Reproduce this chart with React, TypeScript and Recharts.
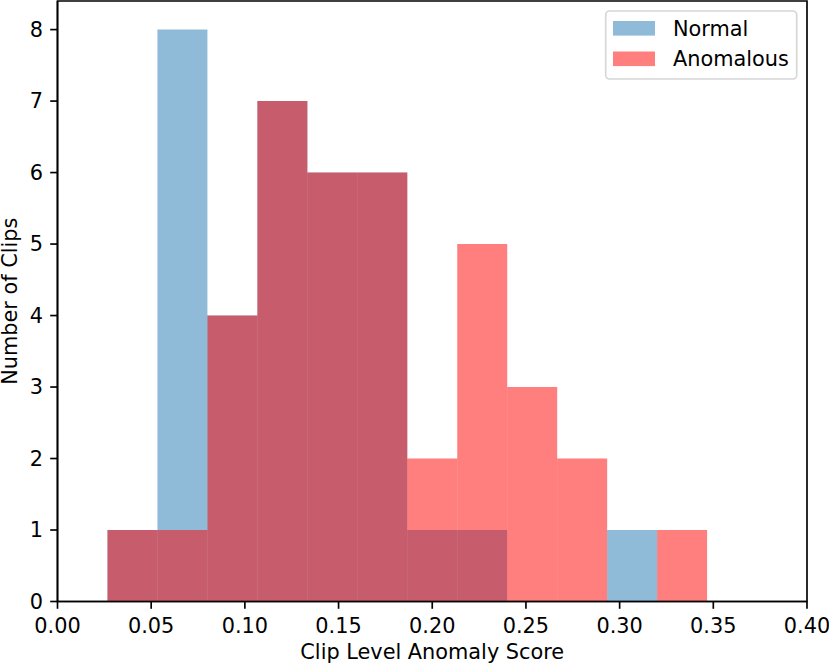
import React from 'react';
import { BarChart, Bar, XAxis, YAxis, Legend, ReferenceArea } from 'recharts';

// histogram bins (left edges), shared by both series
const binStarts = [0, 0.0267, 0.0533, 0.08, 0.1067, 0.1333, 0.16, 0.1867, 0.2133, 0.24, 0.2667, 0.2933, 0.32, 0.3467, 0.3733];
const normalCounts = [0, 1, 8, 4, 7, 6, 6, 1, 1, 0, 0, 1, 0, 0, 0];
const anomalousCounts = [0, 1, 1, 4, 7, 6, 6, 2, 5, 3, 2, 0, 1, 0, 0];

const seriesNames = ['Normal', 'Anomalous'];
const xTicks = [0, 0.05, 0.1, 0.15, 0.2, 0.25, 0.3, 0.35, 0.4];
const yTicks = [0, 1, 2, 3, 4, 5, 6, 7, 8];

const COLORS = {
  normal: '#1f77b4',
  anomalous: '#ff0000',
};

const FONT = 'DejaVu Sans';
const FS = 20.83;
const LW = 1.67;

const data = binStarts.map((start, i) => ({
  bin: `bin-${i}`,
  start,
  normal: normalCounts[i],
  anomalous: anomalousCounts[i],
}));

const YLabel = (props: any) => {
  const vb = props.viewBox || { y: 1, height: 600 };
  const x = 16.5;
  const y = vb.y + vb.height / 2;
  return (
    <text
      x={x}
      y={y}
      transform={`rotate(-90 ${x} ${y})`}
      textAnchor="middle"
      fontFamily={FONT}
      fontSize={FS}
      fill="#000"
    >
      Number of Clips
    </text>
  );
};

const renderLegend = (props: any) => {
  const items = [...(props.payload || [])].sort(
    (a: any, b: any) => seriesNames.indexOf(a.value) - seriesNames.indexOf(b.value)
  );
  return (
    <svg width={196} height={74} style={{ display: 'block' }}>
      <rect x={1.7} y={2} width={191} height={68} rx={4} fill="#fff" fillOpacity={0.8} stroke="#d6d6d6" strokeWidth={LW} />
      {items.map((entry: any, i: number) => (
        <g key={entry.value}>
          <rect x={9} y={12 + i * 30.5} width={42} height={14.6} fill={entry.color} fillOpacity={0.5} />
          <text x={69} y={26.6 + i * 30.5} fontFamily={FONT} fontSize={FS} fill="#000">
            {entry.value}
          </text>
        </g>
      ))}
    </svg>
  );
};

export default function App() {
  return (
    <div style={{ position: 'absolute', left: 0, top: 0, width: 829, height: 665, background: '#fff' }}>
      <BarChart
        width={829}
        height={665}
        data={data}
        margin={{ top: 1, right: 22, left: 0, bottom: 0 }}
        barCategoryGap={0}
        barGap={0}
        style={{ fontFamily: FONT }}
      >
        <XAxis
          xAxisId="score"
          dataKey="start"
          type="number"
          domain={[0, 0.4]}
          ticks={xTicks}
          interval={0}
          allowDataOverflow
          tickFormatter={(v: number) => v.toFixed(2)}
          height={63.5}
          axisLine={{ stroke: '#000', strokeWidth: LW }}
          tickLine={{ stroke: '#000', strokeWidth: LW }}
          tickSize={7.3}
          tickMargin={9}
          tick={{ fill: '#000', fontSize: FS, fontFamily: FONT }}
          label={{ value: 'Clip Level Anomaly Score', position: 'insideBottom', offset: 6, fill: '#000', fontSize: FS, fontFamily: FONT }}
        />
        <XAxis xAxisId="n" dataKey="bin" hide height={0} />
        <XAxis xAxisId="a" dataKey="bin" hide height={0} />
        <YAxis
          yAxisId="left"
          type="number"
          domain={[0, 8.4]}
          ticks={yTicks}
          interval={0}
          allowDataOverflow
          width={57.5}
          axisLine={{ stroke: '#000', strokeWidth: LW }}
          tickLine={{ stroke: '#000', strokeWidth: LW }}
          tickSize={7.3}
          tickMargin={7.3}
          tick={{ fill: '#000', fontSize: FS, fontFamily: FONT }}
          label={<YLabel />}
        />
        <Bar
          xAxisId="n"
          yAxisId="left"
          dataKey="normal"
          name="Normal"
          fill={COLORS.normal}
          fillOpacity={0.5}
          isAnimationActive={false}
        />
        <Bar
          xAxisId="a"
          yAxisId="left"
          dataKey="anomalous"
          name="Anomalous"
          fill={COLORS.anomalous}
          fillOpacity={0.5}
          isAnimationActive={false}
        />
        {/* plot frame (matplotlib spines) */}
        <ReferenceArea
          xAxisId="score"
          yAxisId="left"
          x1={0}
          x2={0.4}
          y1={0}
          y2={8.4}
          fill="none"
          stroke="#000"
          strokeWidth={LW}
          ifOverflow="visible"
        />
        <Legend
          layout="horizontal"
          verticalAlign="middle"
          align="center"
          content={renderLegend}
          wrapperStyle={{ position: 'absolute', left: 604, top: 9, width: 196, height: 74 }}
        />
      </BarChart>
    </div>
  );
}
